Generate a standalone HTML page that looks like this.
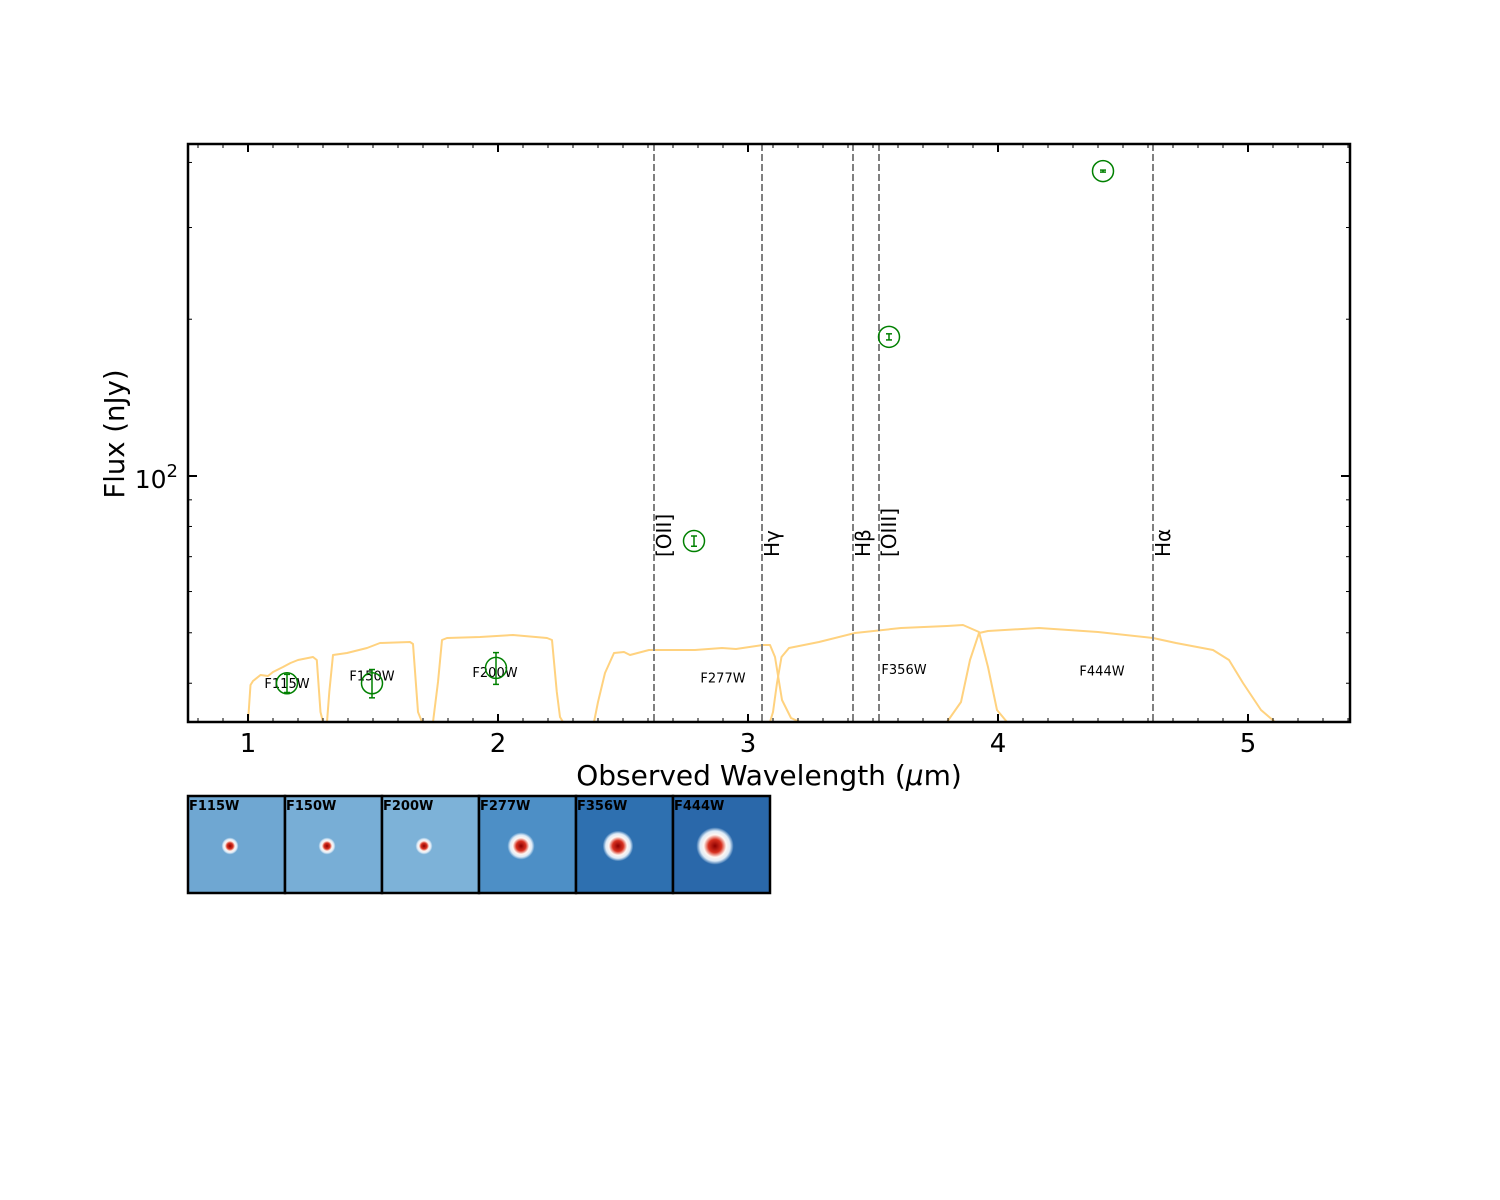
<!DOCTYPE html>
<html><head><meta charset="utf-8"><style>
body{margin:0;background:#fff;width:1500px;height:1200px;overflow:hidden;font-family:"DejaVu Sans","Liberation Sans",sans-serif}
svg{position:absolute;left:0;top:0;font-family:"DejaVu Sans","Liberation Sans",sans-serif}
</style></head><body>
<svg id="c" width="1500" height="1200" xmlns="http://www.w3.org/2000/svg"></svg>
<script>
const filterNames=["F115W","F150W","F200W","F277W","F356W","F444W"];
const ptWave=[1.156,1.496,1.992,2.784,3.564,4.42];
const ptFlux=[40.0,40.0,42.8,75.0,185,385];
const ptErr=[1.6,2.5,3.0,1.7,2.5,1.7];
const labelWave=[1.156,1.496,1.988,2.9,3.624,4.416];
const labelFlux=[40.0,41.4,42.0,41.0,42.6,42.3];
const lineWave=[2.624,3.056,3.42,3.524,4.62];
const lineNames=["[OII]","Hγ","Hβ","[OIII]","Hα"];
const xTicks=[1,2,3,4,5];
const yMinor=[40,50,60,70,80,90,200,300,400];
const trans=[
[[1.0,0],[1.01,.37],[1.02,.41],[1.05,.47],[1.08,.46],[1.1,.50],[1.14,.55],[1.17,.59],[1.2,.62],[1.26,.65],[1.275,.62],[1.29,.1],[1.30,0]],
[[1.316,0],[1.325,.3],[1.34,.67],[1.396,.69],[1.476,.74],[1.528,.79],[1.648,.80],[1.66,.78],[1.68,.1],[1.696,0]],
[[1.74,0],[1.76,.4],[1.776,.82],[1.796,.84],[1.928,.85],[2.06,.87],[2.196,.84],[2.216,.82],[2.235,.3],[2.248,.05],[2.26,0]],
[[2.384,0],[2.4,.2],[2.428,.49],[2.464,.69],[2.504,.70],[2.528,.67],[2.604,.72],[2.788,.72],[2.896,.74],[2.952,.73],[3.06,.77],[3.088,.77],[3.108,.65],[3.136,.22],[3.172,.04],[3.208,0]],
[[3.088,0],[3.1,.1],[3.116,.39],[3.134,.65],[3.164,.74],[3.284,.80],[3.428,.89],[3.612,.94],[3.796,.96],[3.86,.97],[3.924,.9],[3.96,.55],[3.996,.12],[4.036,0]],
[[3.796,0],[3.852,.2],[3.888,.62],[3.924,.89],[3.96,.91],[4.164,.94],[4.4,.90],[4.62,.84],[4.712,.79],[4.86,.72],[4.924,.62],[4.98,.39],[5.052,.12],[5.108,0]]
];
const L=188,R=1350,T=144,B=722;
const X0=0.76,X1=5.408,Y0=Math.log10(33.7),Y1=Math.log10(434);
const xs=v=>L+(v-X0)/(X1-X0)*(R-L);
const ys=v=>B-(Math.log10(v)-Y0)/(Y1-Y0)*(B-T);
const ts=t=>B-t*100;
const svg=document.getElementById('c');
const NS="http://www.w3.org/2000/svg";
function mk(tag,attrs,parent){const e=document.createElementNS(NS,tag);for(const k in attrs)e.setAttribute(k,attrs[k]);(parent||svg).appendChild(e);return e;}
const clip=mk('clipPath',{id:'pc'});mk('rect',{x:L,y:T,width:R-L,height:B-T},clip);
trans.forEach((c,i)=>{
 const d=c.map((p,j)=>(j?'L':'M')+xs(p[0]).toFixed(1)+','+ts(p[1]).toFixed(1)).join(' ');
 const p=mk('path',{d:d,fill:'none',stroke:'#ffd27f','stroke-width':2,'stroke-linejoin':'round','clip-path':'url(#pc)'});
 
 
});
lineWave.forEach((w,i)=>{
 const l=mk('line',{x1:xs(w),x2:xs(w),y1:T,y2:B,stroke:'#808080','stroke-width':2,'stroke-dasharray':'7,3'});
 
 
 const t=mk('text',{x:0,y:0,'font-size':20,transform:`translate(${xs(w)+17},557) rotate(-90)`});
 t.textContent=lineNames[i];
 
 
});
filterNames.forEach((n,i)=>{
 const t=mk('text',{x:xs(labelWave[i]),y:ys(labelFlux[i])+5,'font-size':13,'text-anchor':'middle'});
 t.textContent=n;
 
 
});
ptWave.forEach((w,i)=>{
 const cx=xs(w),cy=ys(ptFlux[i]),y1=ys(ptFlux[i]+ptErr[i]),y2=ys(ptFlux[i]-ptErr[i]);
 const g=mk('g',{stroke:'#008000','stroke-width':1.5,fill:'none'});
 
 
 mk('circle',{cx:cx,cy:cy,r:10.5},g);
 mk('line',{x1:cx,x2:cx,y1:y1,y2:y2},g);
 mk('line',{x1:cx-3,x2:cx+3,y1:y1,y2:y1},g);
 mk('line',{x1:cx-3,x2:cx+3,y1:y2,y2:y2},g);
});
for(let k=8;k<=54;k++){const v=k/10;const maj=k%10===0;const x=xs(v);const len=maj?8:4;
 mk('line',{x1:x,x2:x,y1:B,y2:B-len,stroke:'#000','stroke-width':maj?2:1});
 mk('line',{x1:x,x2:x,y1:T,y2:T+len,stroke:'#000','stroke-width':maj?2:1});}
xTicks.forEach(v=>{const t=mk('text',{x:xs(v),y:B+30,'font-size':26,'text-anchor':'middle'});t.textContent=v;
 });
yMinor.forEach(v=>{const y=ys(v);mk('line',{x1:L,x2:L+4,y1:y,y2:y,stroke:'#000','stroke-width':1});mk('line',{x1:R,x2:R-4,y1:y,y2:y,stroke:'#000','stroke-width':1});});
{const y=ys(100);mk('line',{x1:L,x2:L+9,y1:y,y2:y,stroke:'#000','stroke-width':2});mk('line',{x1:R,x2:R-9,y1:y,y2:y,stroke:'#000','stroke-width':2});
 const t=mk('text',{x:L-10,y:y+12,'font-size':25,'text-anchor':'end'});t.innerHTML='10<tspan dy="-11" font-size="18">2</tspan>';
 }
const fr=mk('rect',{x:L,y:T,width:R-L,height:B-T,fill:'none',stroke:'#000','stroke-width':2.5});

const xl=mk('text',{x:769,y:785,'font-size':28,'text-anchor':'middle'});xl.innerHTML='Observed Wavelength (<tspan font-style="italic">μ</tspan>m)';

const yl=mk('text',{x:0,y:0,'font-size':27.5,'text-anchor':'middle',transform:'translate(124,434) rotate(-90)'});yl.textContent='Flux (nJy)';

const defs=mk('defs',{});
const bgs=['#6fa7d2','#78aed6','#7db2d8','#4d8fc6','#2e70b0','#2a68aa'];
const cores=[5,5,5,8,9,11];
filterNames.forEach((n,i)=>{
 const gr=mk('radialGradient',{id:'g'+i},defs);
 [['0','#8b0000'],['0.35','#d7301f'],['0.6','#fff5f0'],['0.8','#deebf7'],['1',bgs[i]]].forEach(s=>mk('stop',{offset:s[0],'stop-color':s[1]},gr));
 const x=188+i*97,y=796;
 const g=mk('g',{});
 
 
 mk('rect',{x:x,y:y,width:97,height:97,fill:bgs[i]},g);
 mk('circle',{cx:x+42,cy:y+50,r:cores[i]*1.7,fill:'url(#g'+i+')'},g);
 mk('rect',{x:x,y:y,width:97,height:97,fill:'none',stroke:'#000','stroke-width':2.5},g);
 const t=mk('text',{x:x+1,y:y+14,'font-size':13,'font-weight':'bold'},g);t.textContent=n;
});
</script>
</body></html>
